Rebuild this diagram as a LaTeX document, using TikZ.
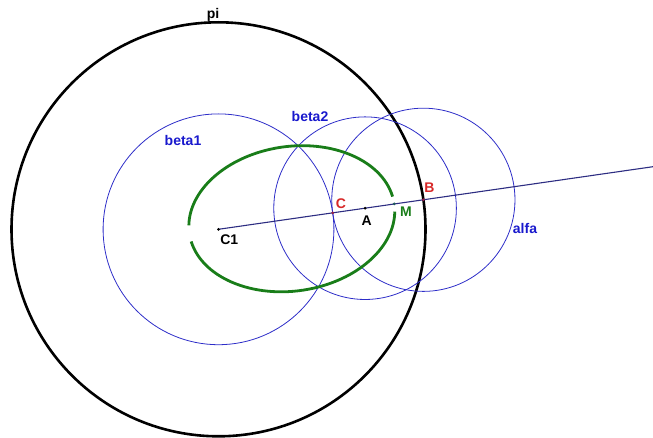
\documentclass[tikz,border=0pt]{standalone}
\usepackage{fontspec}
\setmainfont{Liberation Sans}
\usetikzlibrary{calc}
\definecolor{circblue}{RGB}{45,45,200}
\definecolor{lineblue}{RGB}{45,45,130}
\definecolor{lblblue}{RGB}{25,25,205}
\definecolor{ellgreen}{RGB}{25,125,25}
\definecolor{lblred}{RGB}{215,40,40}
\definecolor{dotred}{RGB}{150,30,70}
\definecolor{dotteal}{RGB}{30,90,90}
\begin{document}
\begin{tikzpicture}[x=1pt,y=1pt,
  thincirc/.style={draw=circblue, line width=0.8pt},
  bigcirc/.style={draw=black, line width=2.6pt},
  ellarc/.style={draw=ellgreen, line width=2.8pt},
  axisline/.style={draw=lineblue, line width=1.1pt},
  lbl/.style={font=\fontsize{14}{16}\selectfont\bfseries, inner sep=0pt},
  dotpt/.style={circle, fill=#1, inner sep=0pt, minimum size=3pt}]
\useasboundingbox (0,0) rectangle (653,437);
% key points
\coordinate (C1) at (218.5,207.7);
\coordinate (C) at ($(C1)+(8.2:115.4)$);
\coordinate (A) at ($(C1)+(8.2:148.1)$);
\coordinate (M) at ($(C1)+(8.2:177.55)$);
\coordinate (B) at ($(C1)+(8.2:207)$);
\coordinate (O) at ($(C1)+(8.2:74.05)$);
\coordinate (E) at ($(C1)+(8.2:445)$);
% circles
\draw[bigcirc] (C1) circle[radius=207];
\draw[thincirc] (C1) circle[radius=115.4];
\draw[thincirc] (A) circle[radius=91.3];
\draw[thincirc] (B) circle[radius=91.6];
% ellipse (two arcs with gaps)
\begin{scope}[shift={(O)}, rotate=8.2]
  \draw[ellarc] (6:103.5 and 72.3) arc[start angle=6, end angle=173.5, x radius=103.5, y radius=72.3];
  \draw[ellarc] (186.5:103.5 and 72.3) arc[start angle=186.5, end angle=354, x radius=103.5, y radius=72.3];
\end{scope}
% axis line
\draw[axisline] (C1) -- (E);
% points
\node[dotpt=black] (pC1) at (C1) {};
\node[dotpt=dotred] (pC) at (C) {};
\node[dotpt=black] (pA) at (A) {};
\node[dotpt=dotteal] (pM) at (M) {};
\node[dotpt=dotred] (pB) at (B) {};
% labels
\node[lbl, text=black] (lpi) at (213,422) {pi};
\node[lbl, text=lblblue] (lb1) at (183,297) {beta1};
\node[lbl, text=lblblue] (lb2) at (310,321) {beta2};
\node[lbl, text=lblblue] (lal) at (525,208.7) {alfa};
\node[lbl, text=black] (lC1) at (229.3,197) {C1};
\node[lbl, text=lblred] (lC) at (341,233.7) {C};
\node[lbl, text=black] (lA) at (366.7,216.3) {A};
\node[lbl, text=ellgreen] (lM) at (406,225.3) {M};
\node[lbl, text=lblred] (lB) at (429.3,249.7) {B};
\end{tikzpicture}
\end{document}
